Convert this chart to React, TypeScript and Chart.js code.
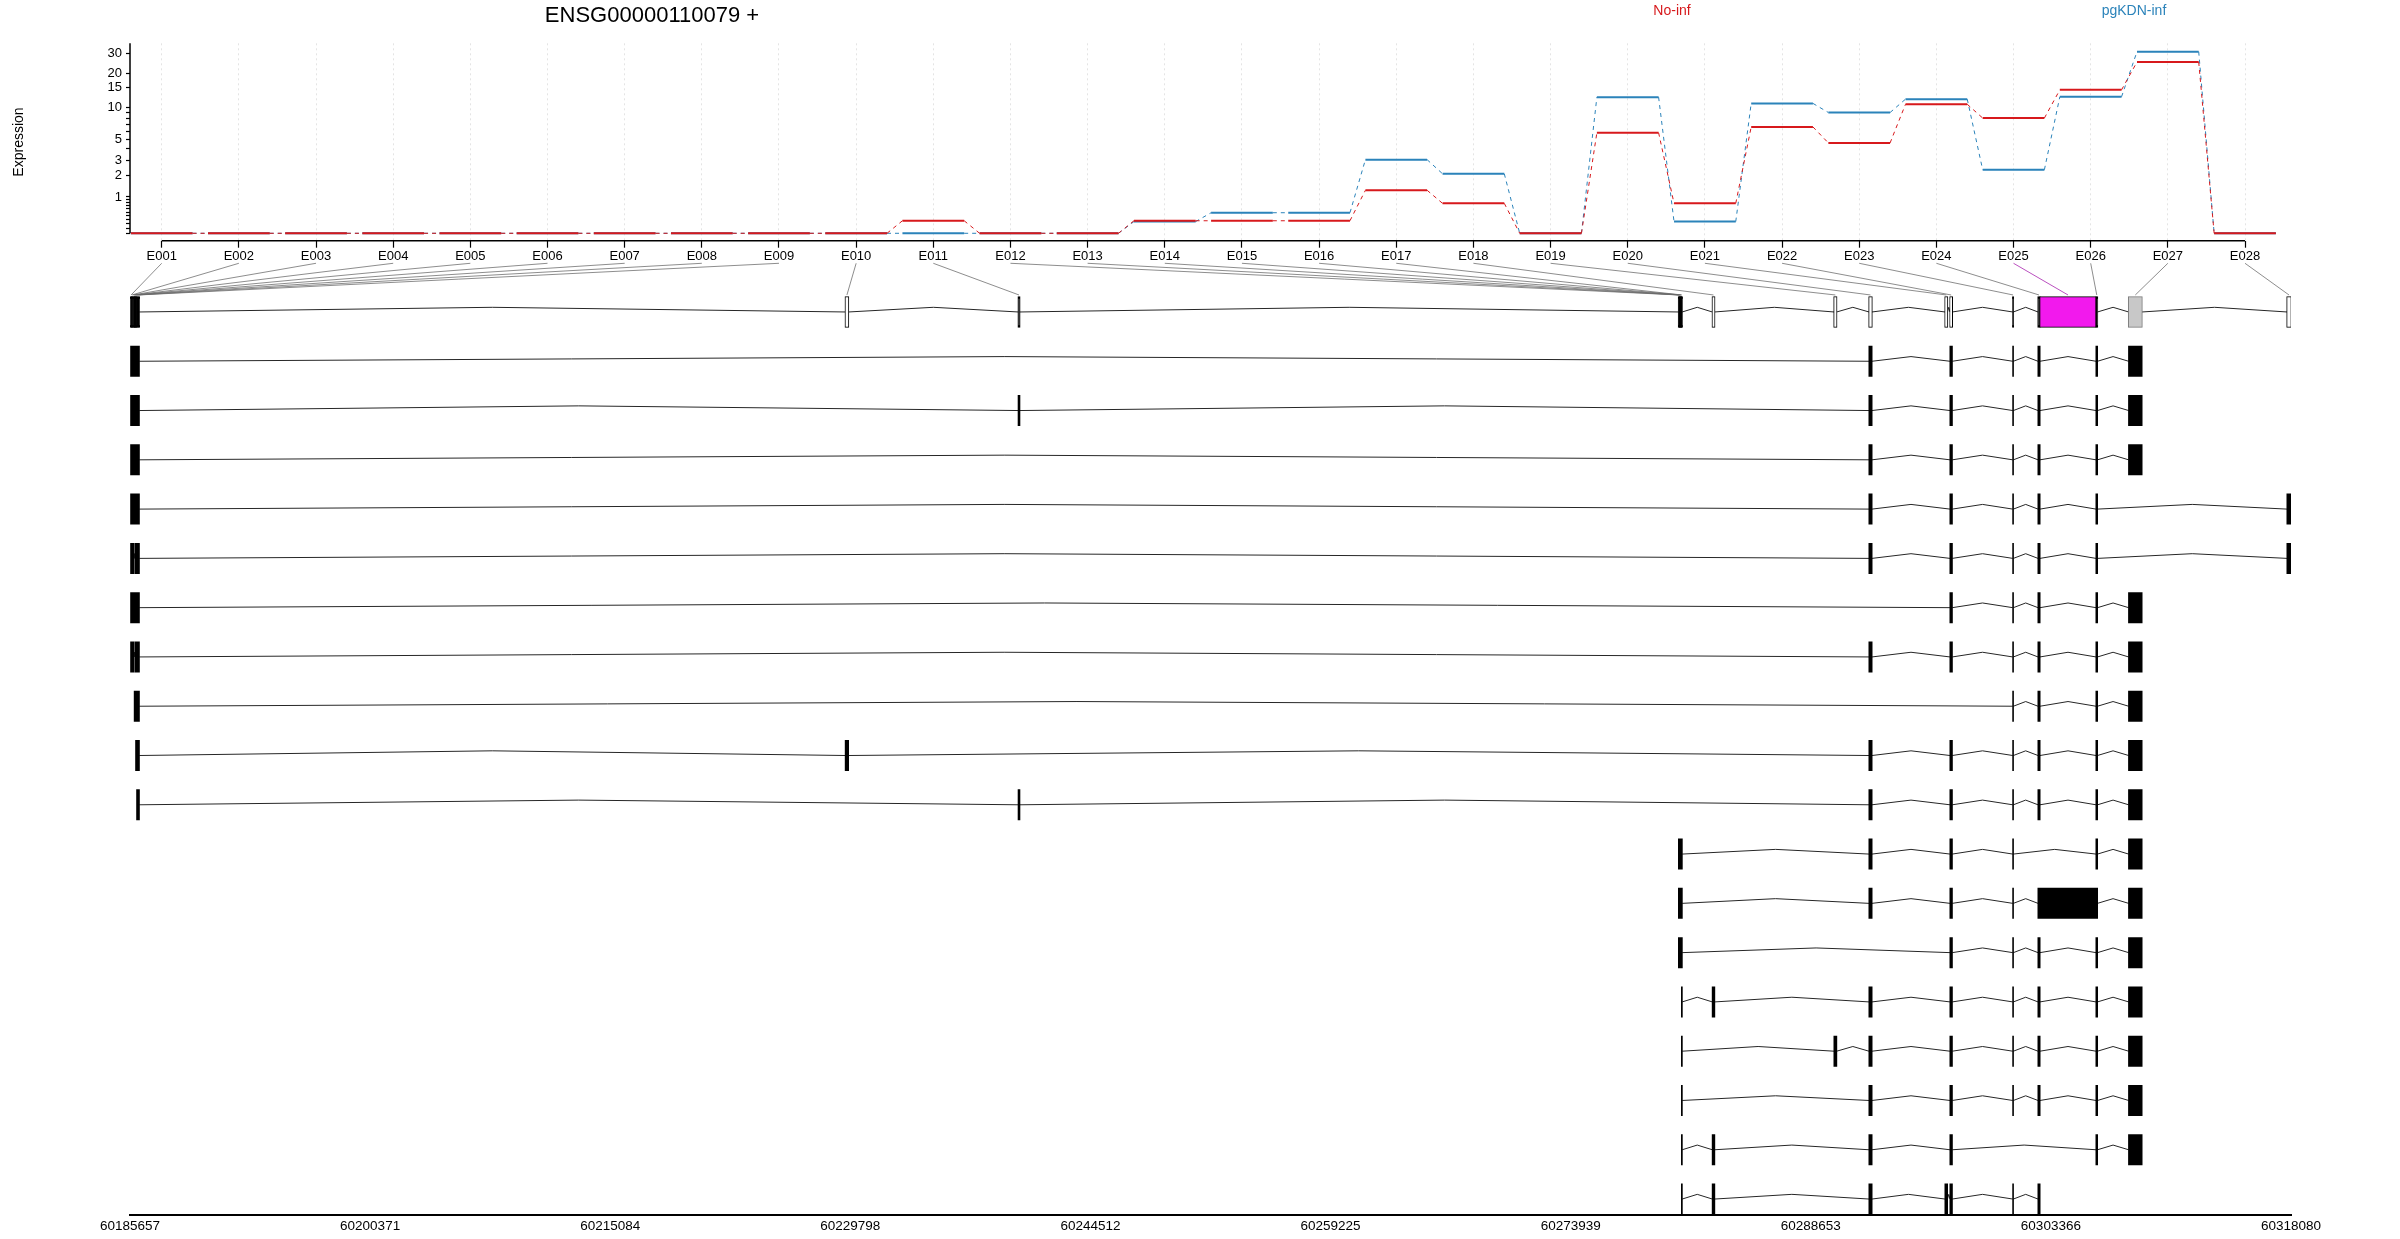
import React, { useEffect, useRef } from 'react';
import { Chart, registerables } from 'chart.js';

Chart.register(...registerables);
Chart.defaults.font.family = '"Liberation Sans", Arial, Helvetica, sans-serif';
Chart.defaults.color = '#000';

// ---------------- data ----------------
const exonNames = [
  'E001', 'E002', 'E003', 'E004', 'E005', 'E006', 'E007', 'E008', 'E009', 'E010',
  'E011', 'E012', 'E013', 'E014', 'E015', 'E016', 'E017', 'E018', 'E019', 'E020',
  'E021', 'E022', 'E023', 'E024', 'E025', 'E026', 'E027', 'E028',
];

// expression per exon bin (No-inf / pgKDN-inf)
const noInf = [0, 0, 0, 0, 0, 0, 0, 0, 0, 0, 0.27, 0, 0, 0.27, 0.27, 0.27, 1.27, 0.77, 0, 5.8, 0.77, 6.6, 4.6, 10.7, 8.0, 14.4, 25.2, 0];
const pgKDNInf = [0, 0, 0, 0, 0, 0, 0, 0, 0, 0, 0, 0, 0, 0.25, 0.48, 0.48, 3.07, 2.11, 0, 12.4, 0.25, 10.9, 9.0, 11.9, 2.36, 12.5, 30.9, 0];

const conditionNames = ['No-inf', 'pgKDN-inf'];

const yTickValues = [0, 0.1, 0.2, 0.3, 0.4, 0.5, 0.6, 0.7, 0.8, 0.9, 1, 2, 3, 4, 5, 6, 7, 8, 9, 10, 15, 20, 30];
const yTickLabels = ['', '', '', '', '', '', '', '', '', '', '1', '2', '3', '', '5', '', '', '', '', '10', '15', '20', '30'];

// genomic coordinates of the exon bins
const exonBins: [number, number][] = [
  [60185700, 60185749], [60185749, 60185798], [60185798, 60185890], [60185890, 60185920],
  [60185920, 60185963], [60185963, 60186006], [60186006, 60186068], [60186068, 60186147],
  [60186147, 60186227], [60229490, 60229686], [60240085, 60240183], [60280547, 60280590],
  [60280590, 60280627], [60280627, 60280663], [60280663, 60280700], [60280700, 60280731],
  [60280731, 60280774], [60282618, 60282765], [60290076, 60290241], [60292220, 60292404],
  [60296878, 60297031], [60297184, 60297325], [60301031, 60301068], [60302577, 60302699],
  [60302699, 60306131], [60306131, 60306223], [60308129, 60308950], [60317835, 60318080],
];

const significantExon = 'E025';
const uncountedExon = 'E027';

// transcripts: exons as [first bin, last bin] (1-based exon numbers)
const transcripts: [number, number][][] = [
  [[1, 9], [20, 20], [22, 22], [23, 23], [24, 24], [26, 26], [27, 27]],
  [[1, 9], [11, 11], [20, 20], [22, 22], [23, 23], [24, 24], [26, 26], [27, 27]],
  [[1, 9], [20, 20], [22, 22], [23, 23], [24, 24], [26, 26], [27, 27]],
  [[1, 9], [20, 20], [22, 22], [23, 23], [24, 24], [26, 26], [28, 28]],
  [[1, 3], [6, 9], [20, 20], [22, 22], [23, 23], [24, 24], [26, 26], [28, 28]],
  [[1, 9], [22, 22], [23, 23], [24, 24], [26, 26], [27, 27]],
  [[1, 3], [6, 9], [20, 20], [22, 22], [23, 23], [24, 24], [26, 26], [27, 27]],
  [[5, 9], [23, 23], [24, 24], [26, 26], [27, 27]],
  [[7, 9], [10, 10], [20, 20], [22, 22], [23, 23], [24, 24], [26, 26], [27, 27]],
  [[8, 9], [11, 11], [20, 20], [22, 22], [23, 23], [24, 24], [26, 26], [27, 27]],
  [[12, 17], [20, 20], [22, 22], [23, 23], [26, 26], [27, 27]],
  [[12, 17], [20, 20], [22, 22], [23, 23], [24, 26], [27, 27]],
  [[12, 17], [22, 22], [23, 23], [24, 24], [26, 26], [27, 27]],
  [[17, 17], [18, 18], [20, 20], [22, 22], [23, 23], [24, 24], [26, 26], [27, 27]],
  [[17, 17], [19, 19], [20, 20], [22, 22], [23, 23], [24, 24], [26, 26], [27, 27]],
  [[17, 17], [20, 20], [22, 22], [23, 23], [24, 24], [26, 26], [27, 27]],
  [[17, 17], [18, 18], [20, 20], [22, 22], [26, 26], [27, 27]],
  [[17, 17], [18, 18], [20, 20], [21, 21], [22, 22], [23, 23], [24, 24]],
];

const genomicTicks = ['60185657', '60200371', '60215084', '60229798', '60244512', '60259225', '60273939', '60288653', '60303366', '60318080'];
const geneStart = 60185657;
const geneEnd = 60318080;

// ---------------- styles / layout ----------------
const RED = '#D7191C';
const BLUE = '#2B83BA';
const EXON_X_MIN = 0.589;
const EXON_X_MAX = 28.596;
const HALF = 0.4;
const Y_MIN = -0.0613;
const Y_MAX = 1.573;
const INTRON_RISE = 0.095;
const CONNECTOR_TOP = -0.988;
const CONNECTOR_BOTTOM = -0.345;
const ROW_MIN = -1;
const ROW_MAX = 18.324;
const THIN_BIN_PX = 2.2;

const tr = (v: number) => Math.log10(v + 1);

function solidSegments(vals: number[]) {
  return vals.flatMap((v, i) => [
    { x: i + 1 - HALF, y: tr(v) },
    { x: i + 1 + HALF, y: tr(v) },
    { x: i + 1 + 0.5, y: null as any },
  ]);
}

function dashedSegments(vals: number[]) {
  return vals.slice(0, -1).flatMap((v, i) => [
    { x: i + 1 + HALF, y: tr(v) },
    { x: i + 2 - HALF, y: tr(vals[i + 1]) },
    { x: i + 1.5, y: null as any },
  ]);
}

function intronPoints(exons: [number, number][], row: number) {
  const pts: { x: number; y: number | null }[] = [];
  for (let i = 0; i < exons.length - 1; i++) {
    const a = exons[i][1];
    const b = exons[i + 1][0];
    if (b - a <= 1) continue;
    pts.push({ x: a, y: row }, { x: (a + b) / 2, y: row - INTRON_RISE }, { x: b, y: row }, { x: b, y: null });
  }
  return pts;
}

const axisLinePlugin = {
  id: 'rAxisLines',
  afterDraw(chart: any) {
    const { x, y } = chart.scales;
    const ca = chart.chartArea;
    const ctx = chart.ctx;
    ctx.save();
    ctx.strokeStyle = '#000';
    ctx.lineWidth = 1.5;
    ctx.beginPath();
    ctx.moveTo(x.getPixelForValue(1), ca.bottom);
    ctx.lineTo(x.getPixelForValue(exonNames.length), ca.bottom);
    ctx.moveTo(ca.left, ca.top);
    ctx.lineTo(ca.left, y.getPixelForValue(0));
    ctx.stroke();
    ctx.restore();
  },
};

const connectorPlugin = {
  id: 'exonConnectors',
  afterDatasetsDraw(chart: any) {
    const { xe, xg, y } = chart.scales;
    const ctx = chart.ctx;
    ctx.save();
    exonBins.forEach(([s, e], i) => {
      ctx.beginPath();
      ctx.strokeStyle = exonNames[i] === significantExon ? '#B23CB8' : 'rgba(105,105,105,0.85)';
      ctx.lineWidth = 0.9;
      ctx.moveTo(xe.getPixelForValue(i + 1), y.getPixelForValue(CONNECTOR_TOP));
      ctx.lineTo(xg.getPixelForValue((s + e) / 2), y.getPixelForValue(CONNECTOR_BOTTOM));
      ctx.stroke();
    });
    ctx.restore();
  },
};

function topConfig(): any {
  const lineBase = { pointRadius: 0, tension: 0, clip: false, spanGaps: false, borderCapStyle: 'butt' };
  return {
    type: 'line',
    data: {
      datasets: [
        { ...lineBase, data: dashedSegments(pgKDNInf), borderColor: BLUE, borderWidth: 1, borderDash: [4, 4], order: 4 },
        { ...lineBase, data: solidSegments(pgKDNInf), borderColor: BLUE, borderWidth: 2, order: 3 },
        { ...lineBase, data: dashedSegments(noInf), borderColor: RED, borderWidth: 1, borderDash: [4, 4], order: 2 },
        { ...lineBase, data: solidSegments(noInf), borderColor: RED, borderWidth: 2, order: 1 },
      ],
    },
    options: {
      animation: false,
      responsive: false,
      devicePixelRatio: 1,
      events: [],
      layout: { padding: { left: 0, right: 109, top: 43.3, bottom: 9.3 } },
      plugins: { legend: { display: false }, tooltip: { enabled: false }, title: { display: false } },
      scales: {
        x: {
          type: 'linear',
          offset: false,
          min: EXON_X_MIN,
          max: EXON_X_MAX,
          afterBuildTicks: (s: any) => { s.ticks = exonNames.map((_, i) => ({ value: i + 1 })); },
          afterFit: (s: any) => { s.height = 30; },
          ticks: { callback: (_v: any, i: number) => exonNames[i], autoSkip: false, maxRotation: 0, padding: 1, font: { size: 13 }, color: '#000' },
          grid: { display: true, drawOnChartArea: true, offset: false, color: '#E4E4E4', lineWidth: 1, tickColor: '#000', tickLength: 7, tickWidth: 1.2 },
          border: { display: false, dash: [2, 3] },
        },
        y: {
          type: 'linear',
          min: Y_MIN,
          max: Y_MAX,
          afterBuildTicks: (s: any) => { s.ticks = yTickValues.map((v) => ({ value: tr(v) })); },
          afterFit: (s: any) => { s.width = 130; },
          ticks: { callback: (_v: any, i: number) => yTickLabels[i], autoSkip: false, padding: 4, font: { size: 13 }, color: '#000' },
          grid: { display: true, drawOnChartArea: false, tickColor: '#000', tickLength: 4, tickWidth: 1.2 },
          border: { display: false },
          title: { display: true, text: 'Expression', font: { size: 14 }, color: '#000', padding: { top: 11, bottom: 0 } },
        },
      },
    },
    plugins: [axisLinePlugin],
  };
}

function bottomConfig(): any {
  const geneModelExons: [number, number][] = [];
  exonBins.forEach(([s, e]) => {
    const last = geneModelExons[geneModelExons.length - 1];
    if (last && s - last[1] <= 1) last[1] = e;
    else geneModelExons.push([s, e]);
  });

  const barBase = {
    type: 'bar',
    indexAxis: 'y',
    xAxisID: 'xg',
    yAxisID: 'y',
    grouped: false,
    barThickness: 30,
    inflateAmount: 0.5,
    borderSkipped: false,
  };
  const lineBase = {
    type: 'line',
    indexAxis: 'x',
    xAxisID: 'xg',
    yAxisID: 'y',
    pointRadius: 0,
    tension: 0,
    spanGaps: false,
    borderColor: '#262626',
    borderWidth: 1,
    order: 5,
  };

  const transcriptExons = transcripts.map((t) => t.map(([a, b]) => [exonBins[a - 1][0], exonBins[b - 1][1]] as [number, number]));

  const binFill = (n: string) => (n === significantExon ? '#F219ED' : n === uncountedExon ? '#C8C8C8' : '#FFFFFF');
  const binBorder = (n: string) => (n === uncountedExon ? '#7A7A7A' : '#000000');
  const pxWidth = (c: any) => {
    const xg = c.chart.scales.xg;
    const r = c.raw;
    if (!xg || !r) return 10;
    return xg.getPixelForValue(r.x[1]) - xg.getPixelForValue(r.x[0]);
  };

  const datasets: any[] = [
    { ...lineBase, data: intronPoints(geneModelExons, 0) },
    ...transcriptExons.map((ex, r) => ({ ...lineBase, data: intronPoints(ex, r + 1) })),
    {
      ...barBase,
      order: 1,
      inflateAmount: 0.7,
      data: exonBins.map(([s, e]) => ({ x: [s, e], y: 0 })),
      backgroundColor: (c: any) => (pxWidth(c) < THIN_BIN_PX ? binBorder(exonNames[c.dataIndex]) : binFill(exonNames[c.dataIndex])),
      borderColor: (c: any) => binBorder(exonNames[c.dataIndex]),
      borderWidth: 1,
    },
    {
      ...barBase,
      order: 0,
      data: transcriptExons.flatMap((ex, r) => ex.map(([s, e]) => ({ x: [s, e], y: r + 1 }))),
      backgroundColor: '#000',
      borderWidth: 0,
    },
  ];

  return {
    type: 'bar',
    data: { datasets },
    options: {
      animation: false,
      responsive: false,
      devicePixelRatio: 1,
      events: [],
      layout: { padding: { left: 130, right: 109, top: 262.7, bottom: 0 } },
      plugins: { legend: { display: false }, tooltip: { enabled: false }, title: { display: false } },
      scales: {
        xg: {
          type: 'linear',
          axis: 'x',
          position: 'bottom',
          offset: false,
          beginAtZero: false,
          grace: 0,
          min: geneStart,
          max: geneEnd,
          afterBuildTicks: (s: any) => { s.ticks = genomicTicks.map((t) => ({ value: Number(t) })); },
          afterFit: (s: any) => { s.height = 24; },
          ticks: { callback: (_v: any, i: number) => genomicTicks[i], autoSkip: false, maxRotation: 0, padding: 3, font: { size: 13.5 }, color: '#000' },
          grid: { display: false, drawTicks: false, offset: false },
          border: { display: true, width: 2, color: '#000' },
        },
        xe: {
          type: 'linear',
          axis: 'x',
          position: 'bottom',
          offset: false,
          grid: { offset: false },
          min: EXON_X_MIN,
          max: EXON_X_MAX,
          display: false,
        },
        y: {
          type: 'linear',
          axis: 'y',
          reverse: true,
          offset: false,
          beginAtZero: false,
          min: ROW_MIN,
          max: ROW_MAX,
          display: false,
          grid: { offset: false },
        },
      },
    },
    plugins: [connectorPlugin],
  };
}

export default function App() {
  const topRef = useRef<HTMLCanvasElement>(null);
  const botRef = useRef<HTMLCanvasElement>(null);

  useEffect(() => {
    document.body.style.margin = '0';
    const top = new Chart(topRef.current as HTMLCanvasElement, topConfig());
    const bot = new Chart(botRef.current as HTMLCanvasElement, bottomConfig());
    return () => {
      top.destroy();
      bot.destroy();
    };
  }, []);

  const textBase: React.CSSProperties = {
    position: 'absolute',
    whiteSpace: 'nowrap',
    transform: 'translateX(-50%)',
    fontFamily: '"Liberation Sans", Arial, Helvetica, sans-serif',
  };

  return (
    <div style={{ position: 'absolute', left: 0, top: 0, width: 2400, height: 1239, background: '#fff', overflow: 'hidden' }}>
      <canvas ref={topRef} width={2400} height={280} style={{ position: 'absolute', left: 0, top: 0 }} />
      <canvas ref={botRef} width={2400} height={1239} style={{ position: 'absolute', left: 0, top: 0 }} />
      <div style={{ ...textBase, left: 652, top: 4, fontSize: 22, lineHeight: '22px', color: '#000' }}>ENSG00000110079 +</div>
      <div style={{ ...textBase, left: 1672, top: 3, fontSize: 14, lineHeight: '14px', color: RED }}>{conditionNames[0]}</div>
      <div style={{ ...textBase, left: 2134, top: 3, fontSize: 14, lineHeight: '14px', color: BLUE }}>{conditionNames[1]}</div>
    </div>
  );
}
